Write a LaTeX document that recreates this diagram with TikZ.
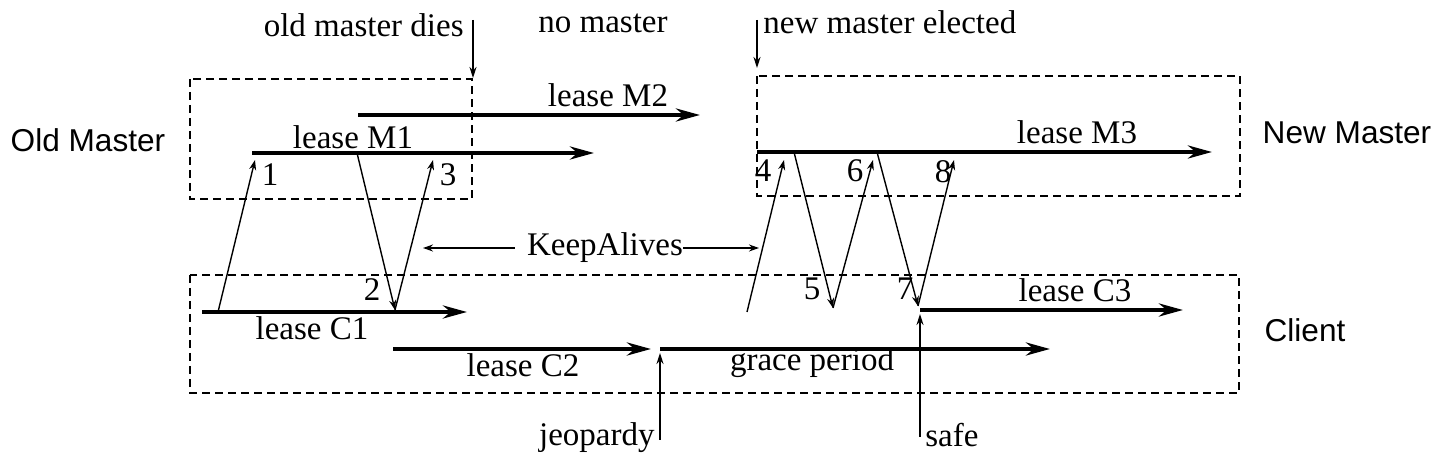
\documentclass[tikz,border=0pt]{standalone}
\usepackage{fontspec}
\setmainfont{Liberation Serif}
\setsansfont{Liberation Sans}
\usetikzlibrary{arrows.meta}
\tikzset{
  leasearrow/.style={line width=2pt, -{Stealth[length=12pt,width=6.5pt]}},
  msgarrow/.style={line width=0.7pt, -{Stealth[length=5pt,width=3.5pt]}},
  eventarrow/.style={line width=0.8pt, -{Stealth[length=5.5pt,width=3.5pt]}},
  groupbox/.style={line width=0.9pt, dash pattern=on 4pt off 2.5pt},
  timelabel/.style={font=\fontsize{16.5}{18}\selectfont, inner sep=0pt},
  rolelabel/.style={font=\sffamily\fontsize{15.8}{18}\selectfont, inner sep=0pt}
}

\begin{document}
\begin{tikzpicture}[x=0.5pt, y=-0.5pt]
  \useasboundingbox (0,0) rectangle (1442,464);

  % dashed groups
  \coordinate (oldTL) at (190,79);   \coordinate (oldBR) at (472,199);
  \coordinate (newTL) at (757,76);   \coordinate (newBR) at (1240,196);
  \coordinate (cliTL) at (190,275);  \coordinate (cliBR) at (1239,393);
  \draw[groupbox] (oldTL) rectangle (oldBR);
  \draw[groupbox] (newTL) rectangle (newBR);
  \draw[groupbox] (cliTL) rectangle (cliBR);

  \node[rolelabel] (oldm) at (88,140) {Old Master};
  \node[rolelabel] (newm) at (1347,133) {New Master};
  \node[rolelabel] (cli) at (1305,330) {Client};

  % leases
  \coordinate (m1s) at (252,153);  \coordinate (m1e) at (594,153);
  \coordinate (m2s) at (358,115);  \coordinate (m2e) at (700,115);
  \coordinate (m3s) at (757,152);  \coordinate (m3e) at (1212,152);
  \coordinate (c1s) at (202,312);  \coordinate (c1e) at (467,312);
  \coordinate (c2s) at (393,349);  \coordinate (c2e) at (651,349);
  \coordinate (gps) at (660,349);  \coordinate (gpe) at (1050,349);
  \coordinate (c3s) at (920,310);  \coordinate (c3e) at (1183,310);
  \draw[leasearrow] (m1s) -- (m1e);
  \draw[leasearrow] (m2s) -- (m2e);
  \draw[leasearrow] (m3s) -- (m3e);
  \draw[leasearrow] (c1s) -- (c1e);
  \draw[leasearrow] (c2s) -- (c2e);
  \draw[leasearrow] (gps) -- (gpe);
  \draw[leasearrow] (c3s) -- (c3e);

  \node[timelabel] (lm1) at (353,137) {lease M1};
  \node[timelabel] (lm2) at (608,95) {lease M2};
  \node[timelabel] (lm3) at (1077,132) {lease M3};
  \node[timelabel] (lc1) at (312,328) {lease C1};
  \node[timelabel] (lc2) at (523,365) {lease C2};
  \node[timelabel] (lgp) at (812,363) {grace period};
  \node[timelabel] (lc3) at (1075,290) {lease C3};

  % messages
  \coordinate (p1) at (218,312);  \coordinate (q1) at (255,160);
  \coordinate (p2) at (357,153);  \coordinate (q2) at (395,310);
  \coordinate (q3) at (433,160);
  \coordinate (p4) at (747,312);  \coordinate (q4) at (784,160);
  \coordinate (p5) at (794,152);  \coordinate (q5) at (833,308);
  \coordinate (q6) at (873,160);
  \coordinate (p7) at (877,152);  \coordinate (q7) at (918,306);
  \coordinate (q8) at (954,160);
  \draw[msgarrow] (p1) -- (q1);
  \draw[msgarrow] (p2) -- (q2);
  \draw[msgarrow] (q2) -- (q3);
  \draw[msgarrow] (p4) -- (q4);
  \draw[msgarrow] (p5) -- (q5);
  \draw[msgarrow] (q5) -- (q6);
  \draw[msgarrow] (p7) -- (q7);
  \draw[msgarrow] (q7) -- (q8);

  \node[timelabel] (n1) at (270,175) {1};
  \node[timelabel] (n2) at (372,290) {2};
  \node[timelabel] (n3) at (448,175) {3};
  \node[timelabel] (n4) at (763,171) {4};
  \node[timelabel] (n5) at (812,289) {5};
  \node[timelabel] (n6) at (855,171) {6};
  \node[timelabel] (n7) at (905,289) {7};
  \node[timelabel] (n8) at (943,172) {8};

  \node[timelabel] (ka) at (605,248) {KeepAlives};
  \coordinate (kaL) at (423,248);
  \coordinate (kaR) at (759,248);
  \draw[msgarrow] ([xshift=-6pt]ka.west) -- (kaL);
  \draw[msgarrow] (ka.east) -- (kaR);

  % events
  \node[timelabel, anchor=east] (dies) at (464,25) {old master dies};
  \node[timelabel] (nomaster) at (603,23) {no master};
  \node[timelabel, anchor=west] (elected) at (763,22) {new master elected};
  \node[timelabel, anchor=east] (jeop) at (655,438) {jeopardy};
  \node[timelabel, anchor=west] (safe) at (925,435) {safe};
  \coordinate (diesT) at (473,20);  \coordinate (diesB) at (473,78);
  \coordinate (elecT) at (757,20);  \coordinate (elecB) at (757,68);
  \coordinate (jeopB) at (660,440); \coordinate (jeopT) at (660,353);
  \coordinate (safeB) at (920,437); \coordinate (safeT) at (920,314);
  \draw[eventarrow] (diesT) -- (diesB);
  \draw[eventarrow] (elecT) -- (elecB);
  \draw[eventarrow] (jeopB) -- (jeopT);
  \draw[eventarrow] (safeB) -- (safeT);
\end{tikzpicture}
\end{document}
